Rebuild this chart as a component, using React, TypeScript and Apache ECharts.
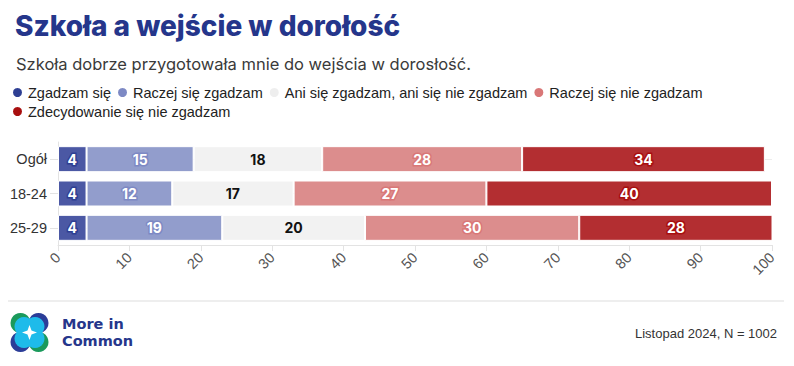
import React, { useEffect, useRef } from "react";
import * as echarts from "echarts";

const categories = ["Ogół", "18-24", "25-29"];
const seriesNames = [
  "Zgadzam się",
  "Raczej się zgadzam",
  "Ani się zgadzam, ani się nie zgadzam",
  "Raczej się nie zgadzam",
  "Zdecydowanie się nie zgadzam",
];
const agree = [4, 4, 4];
const ratherAgree = [15, 12, 19];
const neutral = [18, 17, 20];
const ratherDisagree = [28, 27, 30];
const disagree = [34, 40, 28];
const xTicks = [0, 10, 20, 30, 40, 50, 60, 70, 80, 90, 100];

const legendColors = ["#2E3F93", "#7D89C4", "#EEEEEE", "#D97777", "#A80F0F"];
const barColors = ["#4B58A4", "#929DCC", "#F2F2F2", "#DC8D8D", "#B32E31"];
const labelBorders = ["#2E3F93", "#7D89C4", "", "#D97777", "#A80F0F"];

const SANS = "'Liberation Sans', Arial, sans-serif";

export default function App() {
  const ref = useRef<HTMLDivElement>(null);
  useEffect(() => {
    if (!ref.current) return;
    const chart = echarts.init(ref.current, null, { renderer: "svg" });
    const data = [agree, ratherAgree, neutral, ratherDisagree, disagree];
    const series = data.map((d, i) => ({
      name: seriesNames[i],
      type: "bar",
      stack: "total",
      barWidth: 26,
      data: d,
      itemStyle: { color: barColors[i], borderColor: "#fff", borderWidth: 1 },
      emphasis: { disabled: true },
      label: {
        show: true,
        position: "inside",
        formatter: "{c}",
        fontFamily: "Inter, sans-serif",
        fontWeight: "bold",
        fontSize: 14,
        color: i === 2 ? "#111" : "#fff",
        textBorderColor: i === 2 ? "transparent" : labelBorders[i],
        textBorderWidth: i === 2 ? 0 : 3,
      },
    }));
    const legendBase = {
      icon: "circle",
      itemWidth: 11,
      itemHeight: 11,
      itemGap: 5,
      padding: 0,
      selectedMode: false,
      orient: "horizontal",
      textStyle: {
        fontFamily: SANS,
        fontSize: 14.5,
        lineHeight: 14,
        color: "#222",
      },
    };
    const legendData = seriesNames.map((n, i) => ({ name: n, itemStyle: { color: legendColors[i] } }));
    chart.setOption({
      animation: false,
      color: legendColors,
      title: [
        {
          text: "Szkoła a wejście w dorołość",
          left: 10,
          top: 7,
          textStyle: {
            fontFamily: "Inter, sans-serif",
            fontWeight: 800,
            fontSize: 28,
            color: "#25368B",
          },
        },
        {
          text: "Szkoła dobrze przygotowała mnie do wejścia w dorosłość.",
          left: 11,
          top: 50,
          textStyle: {
            fontFamily: "Inter, sans-serif",
            fontWeight: "normal",
            fontSize: 16.5,
            color: "#3a3a3a",
          },
        },
      ],
      legend: [
        { ...legendBase, left: 11, top: 85, data: legendData.slice(0, 4) },
        { ...legendBase, left: 11, top: 104, data: legendData.slice(4) },
      ],
      grid: { left: 58, right: 22, top: 142, bottom: 121, containLabel: false },
      xAxis: {
        type: "value",
        min: 0,
        max: 100,
        interval: 10,
        axisLine: { show: true, lineStyle: { color: "#e3e3e3" } },
        axisTick: { show: true, length: 6, lineStyle: { color: "#e3e3e3" } },
        splitLine: { show: false },
        axisLabel: {
          rotate: 45,
          fontFamily: SANS,
          fontSize: 14.5,
          color: "#555",
          margin: 10,
          formatter: (v: number) => (xTicks.includes(v) ? String(v) : ""),
        },
      },
      yAxis: {
        type: "category",
        data: categories,
        inverse: true,
        axisLine: { show: true, lineStyle: { color: "#e3e3e3" } },
        axisTick: { show: true, alignWithLabel: true, length: 8, lineStyle: { color: "#e3e3e3" } },
        splitLine: { show: true, alignWithLabel: true, lineStyle: { color: "#ececec" } },
        axisLabel: {
          fontFamily: SANS,
          fontSize: 14.5,
          color: "#333",
          margin: 11,
        },
      },
      graphic: [
        {
          type: "line",
          shape: { x1: 8, y1: 301, x2: 784, y2: 301 },
          style: { stroke: "#dddddd", lineWidth: 1 },
        },
        { type: "circle", shape: { cx: 20.5, cy: 323, r: 10 }, style: { fill: "#1B9A5C" } },
        { type: "circle", shape: { cx: 38.5, cy: 323, r: 10 }, style: { fill: "#2B3D98" } },
        { type: "circle", shape: { cx: 20.5, cy: 342, r: 10 }, style: { fill: "#2B3D98" } },
        { type: "circle", shape: { cx: 38.5, cy: 342, r: 10 }, style: { fill: "#1B9A5C" } },
        { type: "circle", shape: { cx: 24, cy: 326.5, r: 9.5 }, style: { fill: "#1EBBEA" } },
        { type: "circle", shape: { cx: 35, cy: 326.5, r: 9.5 }, style: { fill: "#1EBBEA" } },
        { type: "circle", shape: { cx: 24, cy: 338.5, r: 9.5 }, style: { fill: "#1EBBEA" } },
        { type: "circle", shape: { cx: 35, cy: 338.5, r: 9.5 }, style: { fill: "#1EBBEA" } },
        {
          type: "polygon",
          shape: {
            points: [
              [29.5, 325],
              [31.5, 330.5],
              [37, 332.5],
              [31.5, 334.5],
              [29.5, 340],
              [27.5, 334.5],
              [22, 332.5],
              [27.5, 330.5],
            ],
          },
          style: { fill: "#ffffff" },
        },
        {
          type: "text",
          left: 62,
          top: 316,
          style: {
            text: "More in",
            fontFamily: "'DejaVu Sans', sans-serif",
            fontWeight: "bold",
            fontSize: 14.5,
            fill: "#25368B",
          },
        },
        {
          type: "text",
          left: 62,
          top: 333,
          style: {
            text: "Common",
            fontFamily: "'DejaVu Sans', sans-serif",
            fontWeight: "bold",
            fontSize: 14.5,
            fill: "#25368B",
          },
        },
        {
          type: "text",
          right: 17,
          top: 327,
          style: {
            text: "Listopad 2024, N = 1002",
            fontFamily: SANS,
            fontSize: 13,
            fill: "#333",
          },
        },
      ],
      series,
    });
    return () => chart.dispose();
  }, []);
  return <div ref={ref} style={{ width: 794, height: 366, margin: -8 }} />;
}
